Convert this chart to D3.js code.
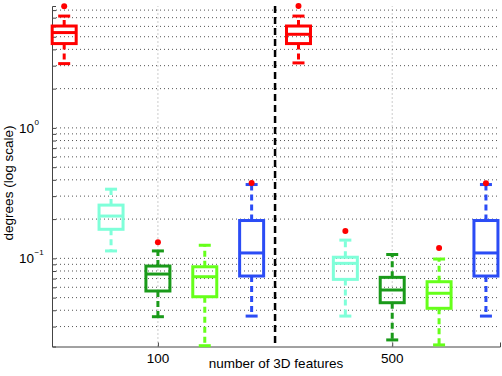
<!DOCTYPE html>
<html>
<head>
<meta charset="utf-8">
<script src="https://cdn.jsdelivr.net/npm/d3@7"></script>
<style>
body { margin: 0; background: #fff; }
text { font-family: "Liberation Sans", Arial, sans-serif; fill: #000; }
</style>
</head>
<body>
<svg id="chart" width="502" height="376"></svg>
<script>
var featureCounts = ["100", "500"];
var boxColors = ["#ff0000", "#7fffd9", "#1a9a1a", "#66ff1a", "#2b4cf5"];
// one value per box: 5 boxes for 100 features, then 5 for 500
var whiskerLow  = [3.11, 0.114, 0.0357, 0.0214, 0.0361, 3.15, 0.0361, 0.0237, 0.0217, 0.0361];
var quartile1   = [4.43, 0.167, 0.0562, 0.0508, 0.0732, 4.43, 0.069, 0.0457, 0.0414, 0.0732];
var medians     = [5.38, 0.211, 0.0758, 0.0723, 0.110, 5.22, 0.0916, 0.0572, 0.054, 0.110];
var quartile3   = [6.04, 0.256, 0.0873, 0.0862, 0.195, 6.04, 0.102, 0.0715, 0.0662, 0.195];
var whiskerHigh = [7.2, 0.339, 0.114, 0.126, 0.368, 7.2, 0.138, 0.107, 0.0988, 0.368];
var outliers = [[8.55], [], [0.133], [], [0.378], [8.6], [0.162], [], [0.120], [0.377]];

var svg = d3.select("#chart");
var x = d3.scaleLinear().domain([0.74, 10.3]).range([52, 500]);
var y = d3.scaleLog().domain([0.0211, 8.6]).range([346.5, 6]);

// log grid values
var minorTicks = [];
[-2, -1, 0].forEach(function(e) {
  for (var m = 1; m <= 9; m++) {
    var v = m * Math.pow(10, e);
    if (v >= y.domain()[0] && v <= y.domain()[1]) minorTicks.push(v);
  }
});
var tickPos = featureCounts.map(function(d, i) { return i * 5 + 3; });

var grid = svg.append("g");
grid.selectAll("line.h").data(minorTicks).enter().append("line")
  .attr("x1", x.range()[0]).attr("x2", x.range()[1])
  .attr("y1", function(d) { return y(d); }).attr("y2", function(d) { return y(d); })
  .attr("stroke", "#555").attr("stroke-dasharray", "1,3");
grid.selectAll("line.v").data(tickPos).enter().append("line")
  .attr("x1", function(d) { return x(d); }).attr("x2", function(d) { return x(d); })
  .attr("y1", y.range()[0]).attr("y2", y.range()[1])
  .attr("stroke", "#999").attr("stroke-dasharray", "1,3");

// axes
var yAxis = svg.append("g").attr("transform", "translate(52,0)")
  .call(d3.axisLeft(y).tickValues(minorTicks).tickSize(-4).tickFormat(""));
var xAxis = svg.append("g").attr("transform", "translate(0,346.5)")
  .call(d3.axisBottom(x).tickValues(tickPos).tickSize(-4).tickFormat(""));
[yAxis, xAxis].forEach(function(a) {
  a.select(".domain").attr("stroke", "#444");
  a.selectAll(".tick line").attr("stroke", "#444");
});

// y labels 10^n
[0, -1].forEach(function(e) {
  svg.append("text").attr("x", 34).attr("y", y(Math.pow(10, e)) + 5)
    .attr("text-anchor", "end").style("font-size", "13.5px").text("10");
  svg.append("text").attr("x", 34.5).attr("y", y(Math.pow(10, e)) - 3)
    .style("font-size", "8px").text(e === 0 ? "0" : "\u22121");
});

svg.selectAll("text.xt").data(featureCounts).enter().append("text")
  .attr("x", function(d, i) { return x(tickPos[i]); }).attr("y", 362.5)
  .attr("text-anchor", "middle").style("font-size", "13.5px").text(function(d) { return d; });

svg.append("text").attr("x", 276).attr("y", 367.5).attr("text-anchor", "middle")
  .style("font-size", "13.5px").text("number of 3D features");
svg.append("text").attr("transform", "translate(13,183) rotate(-90)")
  .attr("text-anchor", "middle").style("font-size", "13.5px").text("degrees (log scale)");

// divider between the two groups
svg.append("line").attr("x1", x(5.5)).attr("x2", x(5.5))
  .attr("y1", y.range()[1]).attr("y2", y.range()[0])
  .attr("stroke", "#000").attr("stroke-width", 2.5).attr("stroke-dasharray", "7,4");

// boxes
var half = 12, cap = 6;
var boxes = svg.selectAll("g.box").data(medians).enter().append("g")
  .attr("stroke", function(d, i) { return boxColors[i % 5]; })
  .attr("fill", "none").attr("stroke-width", 3);
boxes.each(function(d, i) {
  var g = d3.select(this), cx = x(i + 1);
  g.append("line").attr("x1", cx).attr("x2", cx)
    .attr("y1", y(quartile3[i])).attr("y2", y(whiskerHigh[i])).attr("stroke-dasharray", "6,4");
  g.append("line").attr("x1", cx).attr("x2", cx)
    .attr("y1", y(quartile1[i])).attr("y2", y(whiskerLow[i])).attr("stroke-dasharray", "6,4");
  g.append("line").attr("x1", cx - cap).attr("x2", cx + cap)
    .attr("y1", y(whiskerHigh[i])).attr("y2", y(whiskerHigh[i]));
  g.append("line").attr("x1", cx - cap).attr("x2", cx + cap)
    .attr("y1", y(whiskerLow[i])).attr("y2", y(whiskerLow[i]));
  g.append("rect").attr("x", cx - half).attr("width", half * 2)
    .attr("y", y(quartile3[i])).attr("height", y(quartile1[i]) - y(quartile3[i]));
  g.append("line").attr("x1", cx - half).attr("x2", cx + half)
    .attr("y1", y(medians[i])).attr("y2", y(medians[i]));
  g.selectAll("circle").data(outliers[i]).enter().append("circle")
    .attr("cx", cx).attr("cy", function(v) { return y(v); }).attr("r", 3)
    .attr("fill", "#ff0000").attr("stroke", "none");
});
</script>
</body>
</html>
